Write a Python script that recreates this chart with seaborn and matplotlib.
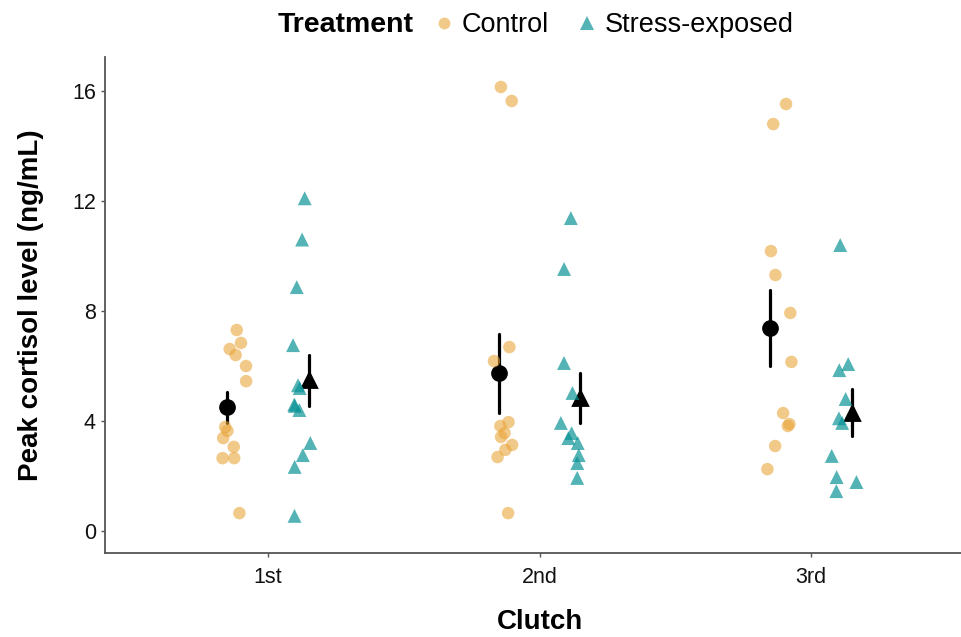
import numpy as np
import pandas as pd
import matplotlib
matplotlib.use("Agg")
import matplotlib.pyplot as plt
from matplotlib.lines import Line2D
import seaborn as sns

sns.set_style("ticks")
plt.rcParams["font.family"] = ["Liberation Sans", "DejaVu Sans"]
plt.rcParams["text.color"] = "black"
plt.rcParams["axes.labelcolor"] = "black"

# ---- data ----
clutches = ["1st", "2nd", "3rd"]
treatments = ["Control", "Stress-exposed"]

control_1st = [7.31, 6.84, 6.62, 6.40, 6.00, 5.45, 3.78, 3.64, 3.38, 3.06, 2.65, 2.65, 0.65]
control_2nd = [16.15, 15.64, 6.69, 6.18, 3.96, 3.82, 3.56, 3.42, 3.13, 2.95, 2.69, 0.65]
control_3rd = [15.53, 14.80, 10.18, 9.31, 7.93, 6.15, 4.29, 3.89, 3.82, 3.09, 2.25]
stress_1st = [12.10, 10.60, 8.87, 6.76, 5.30, 5.20, 4.60, 4.55, 4.40, 3.20, 2.76, 2.33, 0.55]
stress_2nd = [11.38, 9.53, 6.11, 5.02, 3.93, 3.56, 3.38, 3.20, 2.76, 2.47, 1.93]
stress_3rd = [10.40, 6.07, 5.85, 4.80, 4.10, 3.93, 2.73, 1.96, 1.78, 1.45]

y_ticks = [0, 4, 8, 12, 16]

groups = {
    ("Control", "1st"): control_1st,
    ("Control", "2nd"): control_2nd,
    ("Control", "3rd"): control_3rd,
    ("Stress-exposed", "1st"): stress_1st,
    ("Stress-exposed", "2nd"): stress_2nd,
    ("Stress-exposed", "3rd"): stress_3rd,
}
rows = []
for (trt, cl), vals in groups.items():
    for v in vals:
        rows.append({"Treatment": trt, "Clutch": cl, "Cortisol": v})
df = pd.DataFrame(rows)

colors = {"Control": "#E9A53A", "Stress-exposed": "#0A9396"}
alphas = {"Control": 0.6, "Stress-exposed": 0.7}
markers = {"Control": "o", "Stress-exposed": "^"}
sizes = {"Control": 9.0, "Stress-exposed": 10.0}

fig = plt.figure(figsize=(9.61, 6.37), dpi=100)
ax = fig.add_axes([105 / 961, 84 / 637, (974 - 105) / 961, (553 - 57) / 637])

np.random.seed(3)
shift = {"Control": 0.08, "Stress-exposed": -0.08}
for trt in treatments:
    n_before = len(ax.collections)
    sns.stripplot(data=df[df["Treatment"] == trt], x="Clutch", y="Cortisol",
                  hue="Treatment", hue_order=treatments, order=clutches,
                  palette=colors, dodge=True, jitter=0.1, marker=markers[trt],
                  size=sizes[trt], alpha=alphas[trt], linewidth=0,
                  legend=False, ax=ax)
    for c in ax.collections[n_before:]:
        off = c.get_offsets().copy()
        off[:, 0] += shift[trt]
        c.set_offsets(off)

sns.pointplot(data=df, x="Clutch", y="Cortisol", hue="Treatment",
              hue_order=treatments, order=clutches,
              palette=["black", "black"], markers=["o", "^"],
              linestyle="none", errorbar="se", dodge=0.3,
              markersize=10, err_kws={"linewidth": 2.3},
              legend=False, ax=ax)

ax.set_xlim(-0.6, 2.6)
ax.set_ylim(-0.8, 17.24)
ax.set_yticks(y_ticks)
ax.set_yticklabels([str(t) for t in y_ticks])
ax.tick_params(axis="both", labelsize=15.5, length=3, width=1.0,
               color="#555555", labelcolor="#111111")
ax.tick_params(axis="x", pad=7)
for s in ["top", "right"]:
    ax.spines[s].set_visible(False)
for s in ["left", "bottom"]:
    ax.spines[s].set_color("#555555")
    ax.spines[s].set_linewidth(1.3)

ax.set_xlabel("Clutch", fontsize=20, fontweight="bold", labelpad=15)
ax.set_ylabel("Peak cortisol level (ng/mL)", fontsize=20, fontweight="bold",
              labelpad=20)

# legend at top
fig.text(278 / 961, 1 - 25 / 637, "Treatment", fontsize=20.5, fontweight="bold",
         ha="left", va="center")
handles = [Line2D([], [], linestyle="none", marker=markers[t],
                  markerfacecolor=colors[t], markeredgewidth=0,
                  alpha=alphas[t], markersize=8.5 if t == "Control" else 9.5)
           for t in treatments]
fig.legend(handles, treatments, loc="center left",
           bbox_to_anchor=(436 / 961, 1 - 25 / 637), ncol=2, frameon=False,
           fontsize=19.5, handlelength=0.6, handletextpad=0.35,
           columnspacing=1.1, borderaxespad=0, borderpad=0)

fig.savefig("out.png", dpi=100)
